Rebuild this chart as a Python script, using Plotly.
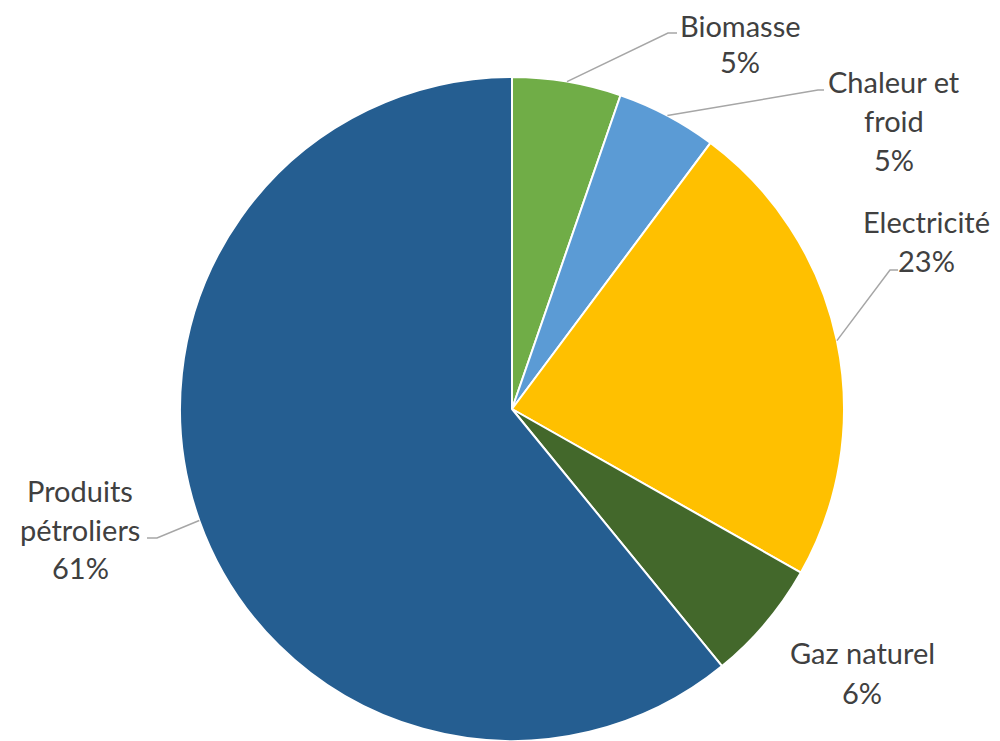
import numpy as np
import plotly.graph_objects as go

# Donnees (part de chaque energie)
labels = ["Biomasse", "Chaleur et froid", "Electricité", "Gaz naturel", "Produits pétroliers"]
values = [5.3, 4.9, 23.0, 5.9, 60.9]
colors = ["#70AD47", "#5B9BD5", "#FFC000", "#43682B", "#255E91"]

# la page html a une marge de 8 px : on travaille en pixels de la page
OFF = 8
W, H = 1000 - OFF, 741 - OFF
cx, cy, r = 512, 409, 332

def px(x, y):
    return (x - OFF) / W, 1 - (y - OFF) / H

fig = go.Figure(go.Pie(
    labels=labels, values=values, sort=False, direction="clockwise", rotation=0,
    marker=dict(colors=colors, line=dict(color="white", width=2)),
    textinfo="none", hoverinfo="label+percent", showlegend=False,
    domain=dict(x=[(cx - r - OFF) / W, (cx + r - OFF) / W],
                y=[max(0, (H - (cy - OFF) - r) / H), (H - (cy - OFF) + r) / H]),
))

total = sum(values)
cum = np.cumsum([0] + values)

# Etiquettes : lignes de texte, centre x, y de chaque ligne, coude du trait de rappel
etiquettes = [
    (["Biomasse"], 740, [26, 62], [(668, 33), (677, 33)]),
    (["Chaleur et", "froid"], 894, [81, 120, 159], [(818, 90), (824, 90)]),
    (["Electricité"], 926, [221, 261], [(890, 270), (898, 270)]),
    (["Gaz naturel"], 862, [652, 692], None),
    (["Produits", "pétroliers"], 80, [490, 529, 567], [(157, 538), (147, 538)]),
]

for i, (lignes, tx, ys, coude) in enumerate(etiquettes):
    lignes = lignes + ["%d%%" % round(100 * values[i] / total)]
    for txt, ty in zip(lignes, ys):
        x, y = px(tx, ty)
        fig.add_annotation(x=x, y=y, xref="paper", yref="paper", text=txt, showarrow=False,
                           xanchor="center", yanchor="middle", borderpad=0,
                           font=dict(family="Lato", size=29, color="#404040"))
    if coude is None:
        continue
    # point d'ancrage au bord de la part (milieu de l'angle)
    a = 2 * np.pi * (cum[i] + values[i] / 2) / total
    pts = [(cx + r * np.sin(a), cy - r * np.cos(a))] + coude
    path = "M " + " L ".join("%.4f,%.4f" % px(*p) for p in pts)
    fig.add_shape(type="path", path=path, xref="paper", yref="paper",
                  line=dict(color="#A6A6A6", width=1.5))

fig.update_layout(width=W, height=H, margin=dict(l=0, r=0, t=0, b=0),
                  paper_bgcolor="white", plot_bgcolor="white")

fig.write_html("out.html")
